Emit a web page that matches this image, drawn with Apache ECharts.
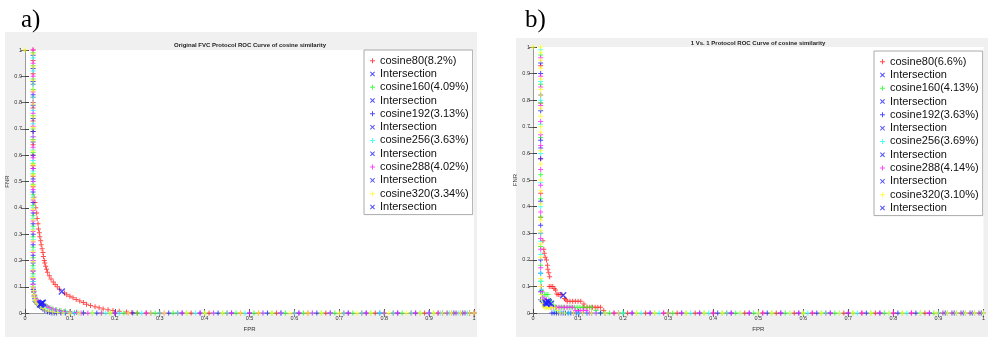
<!DOCTYPE html>
<html>
<head>
<meta charset="utf-8">
<script src="https://cdn.jsdelivr.net/npm/echarts@6/dist/echarts.min.js"></script>
<style>
html, body { margin: 0; padding: 0; background: #fff; }
#main { width: 988px; height: 337px; }
</style>
</head>
<body>
<div id="main"></div>
<script>
// 图例名称
var namesA = ['cosine80(8.2%)', 'cosine160(4.09%)', 'cosine192(3.13%)', 'cosine256(3.63%)', 'cosine288(4.02%)', 'cosine320(3.34%)'];
var namesB = ['cosine80(6.6%)', 'cosine160(4.13%)', 'cosine192(3.63%)', 'cosine256(3.69%)', 'cosine288(4.14%)', 'cosine320(3.10%)'];
var colors = ['#ff2020', '#20ff20', '#2020ff', '#20ffff', '#ff20ff', '#ffff20'];
var ticks = [0, 0.1, 0.2, 0.3, 0.4, 0.5, 0.6, 0.7, 0.8, 0.9, 1];

// a) Original FVC: 竖直段 FNR, 曲线段 [FPR, FNR], 水平段 FPR
var a80Stem = [1, 0.96, 0.91, 0.87, 0.82, 0.78, 0.73, 0.69, 0.64, 0.6, 0.56, 0.52, 0.48];
var a80Curve = [[0.020,0.44],[0.022,0.42],[0.024,0.40],[0.026,0.38],[0.027,0.36],[0.029,0.34],[0.030,0.32],[0.032,0.305],[0.033,0.29],[0.035,0.275],[0.036,0.26],[0.038,0.245],[0.040,0.23],[0.041,0.215],[0.043,0.20],[0.044,0.19],[0.046,0.178],[0.048,0.167],[0.050,0.155],[0.054,0.142],[0.058,0.13],[0.063,0.118],[0.067,0.109],[0.072,0.10],[0.077,0.091],[0.088,0.076],[0.093,0.07],[0.1,0.064],[0.107,0.058],[0.114,0.052],[0.122,0.046],[0.13,0.04],[0.137,0.034],[0.146,0.029],[0.156,0.024],[0.165,0.02],[0.174,0.016],[0.185,0.013],[0.196,0.01],[0.21,0.007],[0.226,0.004],[0.238,0.002],[0.25,0]];
var a80Tail = [0.27,0.3,0.34,0.37,0.41,0.45,0.48,0.52,0.56,0.6,0.63,0.67,0.71,0.75,0.78,0.82,0.86,0.89,0.92,0.95,0.97,0.99,1];
var a160Stem = [0.99,0.94,0.89,0.85,0.8,0.75,0.7,0.66,0.61,0.57,0.53,0.49,0.45,0.41,0.37,0.33,0.29,0.25,0.21,0.18,0.15,0.12,0.1];
var a160Curve = [[0.019,0.09],[0.02,0.08],[0.021,0.07],[0.023,0.06],[0.025,0.05],[0.028,0.045],[0.032,0.04],[0.038,0.036],[0.045,0.03],[0.05,0.025],[0.056,0.02],[0.063,0.016],[0.07,0.013],[0.08,0.01],[0.09,0.008],[0.1,0.006],[0.115,0.004],[0.13,0.002],[0.15,0.001]];
var a160Tail = [0.17,0.19,0.22,0.25,0.29,0.33,0.36,0.4,0.44,0.47,0.51,0.55,0.58,0.62,0.66,0.69,0.73,0.77,0.8,0.84,0.88,0.91,0.94,0.96,0.98,1];
var a192Stem = [0.98,0.93,0.88,0.83,0.79,0.74,0.69,0.65,0.6,0.55,0.51,0.46,0.42,0.38,0.34,0.3,0.26,0.22,0.19,0.16,0.13,0.11,0.09];
var a192Curve = [[0.019,0.08],[0.02,0.065],[0.021,0.055],[0.022,0.045],[0.024,0.04],[0.027,0.035],[0.03,0.03],[0.033,0.025],[0.036,0.02],[0.04,0.015],[0.044,0.01],[0.05,0.005],[0.055,0.002],[0.06,0]];
var a192Tail = [0.065,0.07,0.08,0.09,0.11,0.13,0.16,0.2,0.24,0.28,0.32,0.35,0.39,0.43,0.46,0.5,0.54,0.57,0.61,0.65,0.68,0.72,0.76,0.79,0.83,0.87,0.9,0.93,0.955,0.975,0.99];
var a256Stem = [0.97,0.92,0.87,0.82,0.77,0.72,0.67,0.62,0.58,0.54,0.5,0.44,0.4,0.36,0.32,0.28,0.24,0.2,0.17,0.14,0.12];
var a256Curve = [[0.019,0.1],[0.02,0.085],[0.021,0.07],[0.023,0.058],[0.025,0.048],[0.028,0.042],[0.032,0.037],[0.037,0.03],[0.043,0.024],[0.05,0.018],[0.058,0.013],[0.066,0.009],[0.076,0.006],[0.088,0.004],[0.1,0.002],[0.11,0]];
var a256Tail = [0.12,0.15,0.18,0.21,0.26,0.3,0.34,0.38,0.42,0.45,0.49,0.53,0.57,0.6,0.64,0.68,0.71,0.75,0.79,0.82,0.86,0.9,0.925,0.945,0.965,0.985];
var a288Stem = [1,0.95,0.9,0.84,0.8,0.76,0.71,0.67,0.63,0.59,0.55,0.5,0.47,0.43,0.39,0.35,0.31,0.27,0.23,0.2,0.16,0.13,0.11];
var a288Curve = [[0.019,0.095],[0.02,0.082],[0.022,0.068],[0.024,0.056],[0.026,0.048],[0.03,0.043],[0.035,0.04],[0.041,0.033],[0.047,0.027],[0.053,0.021],[0.06,0.016],[0.068,0.012],[0.077,0.009],[0.087,0.006],[0.1,0.004],[0.115,0.002],[0.125,0]];
var a288Tail = [0.14,0.17,0.2,0.23,0.27,0.31,0.35,0.39,0.42,0.46,0.5,0.53,0.57,0.61,0.64,0.68,0.72,0.76,0.8,0.83,0.87,0.9,0.92,0.94,0.96,0.98,1];
var a320Stem = [0.985,0.935,0.885,0.845,0.795,0.745,0.705,0.655,0.615,0.565,0.525,0.485,0.435,0.395,0.355,0.315,0.275,0.235,0.195,0.165,0.135,0.1];
var a320Curve = [[0,1],[0.019,0.085],[0.02,0.07],[0.021,0.06],[0.022,0.05],[0.024,0.042],[0.027,0.036],[0.031,0.03],[0.035,0.025],[0.04,0.018],[0.046,0.012],[0.053,0.007],[0.062,0.004],[0.072,0.002],[0.085,0]];
var a320Tail = [0.1,0.12,0.15,0.19,0.23,0.28,0.31,0.36,0.4,0.44,0.48,0.52,0.55,0.59,0.63,0.66,0.7,0.74,0.77,0.81,0.85,0.88,0.91,0.93,0.95,0.97,0.99,1];
var crossA = [[0.082,0.082],[0.038,0.038],[0.035,0.034],[0.036,0.036],[0.04,0.039],[0.034,0.033]];

// b) 1 Vs. 1
var b80Stem = [0.93, 0.79, 0.58, 0.45, 0.36, 0.3];
var b80Curve = [[0.022,0.272],[0.024,0.24],[0.025,0.225],[0.027,0.21],[0.03,0.2],[0.032,0.18],[0.033,0.165],[0.035,0.152],[0.037,0.137],[0.036,0.1],[0.04,0.1],[0.044,0.1],[0.047,0.092],[0.05,0.087],[0.053,0.072],[0.056,0.07],[0.06,0.07],[0.064,0.07],[0.07,0.055],[0.073,0.05],[0.076,0.045],[0.082,0.045],[0.088,0.045],[0.094,0.045],[0.1,0.045],[0.106,0.045],[0.113,0.034],[0.113,0.022],[0.12,0.022],[0.126,0.022],[0.132,0.022],[0.138,0.022],[0.144,0.022],[0.15,0.022],[0.157,0.01],[0.16,0]];
var b80Tail = [0.18,0.21,0.25,0.29,0.32,0.36,0.4,0.43,0.47,0.51,0.54,0.58,0.62,0.65,0.69,0.73,0.76,0.8,0.84,0.87,0.9,0.92,0.94,0.96,0.98,1];
var b160Stem = [0.97,0.86,0.79,0.66,0.52,0.43,0.36,0.25,0.18,0.12];
var b160Curve = [[0.018,0.1],[0.019,0.085],[0.021,0.07],[0.025,0.07],[0.029,0.07],[0.033,0.07],[0.035,0.05],[0.04,0.045],[0.045,0.03],[0.05,0.022],[0.056,0.022],[0.062,0.022],[0.068,0.022],[0.074,0.022],[0.08,0.022],[0.086,0.022],[0.092,0.022],[0.098,0.022],[0.104,0.022],[0.11,0.022],[0.12,0.022],[0.13,0.022],[0.14,0.01],[0.15,0]];
var b160Tail = [0.17,0.2,0.23,0.27,0.31,0.34,0.38,0.42,0.45,0.49,0.53,0.56,0.6,0.64,0.67,0.71,0.75,0.78,0.82,0.86,0.89,0.91,0.93,0.95,0.97,0.99];
var b192Stem = [0.94,0.9,0.82,0.76,0.65,0.62,0.58,0.42,0.33,0.2,0.15];
var b192Curve = [[0.017,0.08],[0.017,0.05],[0.02,0.045],[0.023,0.04],[0.026,0.035],[0.029,0.03],[0.032,0.04],[0.035,0.03],[0.038,0.03],[0.042,0],[0.047,0],[0.052,0],[0.057,0],[0.062,0],[0.067,0],[0.072,0],[0.078,0],[0.084,0],[0.09,0],[0.096,0],[0.102,0],[0.11,0],[0.12,0]];
var b192Tail = [0.13,0.15,0.19,0.22,0.26,0.3,0.33,0.37,0.41,0.44,0.48,0.52,0.55,0.59,0.63,0.66,0.7,0.74,0.77,0.81,0.85,0.88,0.915,0.935,0.955,0.975,0.995];
var b256Stem = [0.99,0.87,0.8,0.71,0.6,0.49,0.4,0.3,0.27,0.22,0.15];
var b256Curve = [[0.018,0.12],[0.019,0.09],[0.02,0.07],[0.022,0.05],[0.025,0.045],[0.03,0.04],[0.035,0.03],[0.04,0.02],[0.05,0.01],[0.06,0.005],[0.07,0]];
var b256Tail = [0.08,0.1,0.12,0.14,0.16,0.2,0.24,0.28,0.35,0.39,0.43,0.46,0.5,0.57,0.61,0.65,0.68,0.72,0.79,0.83,0.86,0.9,0.92,0.94,0.96,0.98,1];
var b288Stem = [0.96,0.89,0.85,0.78,0.72,0.67,0.63,0.54,0.48,0.38,0.28,0.24,0.17];
var b288Curve = [[0.018,0.1],[0.02,0.08],[0.022,0.06],[0.025,0.05],[0.03,0.05],[0.035,0.04],[0.04,0.022],[0.046,0.022],[0.052,0.022],[0.058,0.022],[0.064,0.022],[0.07,0.022],[0.076,0.022],[0.082,0.022],[0.088,0.022],[0.094,0.01],[0.1,0.01],[0.106,0.01],[0.112,0.01],[0.118,0.01],[0.125,0]];
var b288Tail = [0.14,0.18,0.22,0.26,0.29,0.33,0.37,0.4,0.44,0.48,0.51,0.55,0.59,0.62,0.66,0.7,0.73,0.77,0.8,0.84,0.88,0.91,0.93,0.95,0.97,0.99];
var b320Stem = [1,0.98,0.95,0.92,0.88,0.84,0.82,0.77,0.74,0.7,0.68,0.61,0.56,0.5,0.46,0.41,0.35,0.31,0.26,0.21,0.13,0.1];
var b320Curve = [[0,1],[0.018,0.07],[0.019,0.05],[0.021,0.035],[0.023,0.025],[0.026,0.02],[0.03,0.02],[0.034,0.02],[0.038,0.02],[0.042,0.02],[0.048,0.02],[0.055,0.01],[0.06,0]];
var b320Tail = [0.07,0.09,0.11,0.13,0.16,0.19,0.23,0.27,0.3,0.34,0.38,0.42,0.46,0.5,0.53,0.57,0.6,0.64,0.68,0.71,0.75,0.79,0.82,0.86,0.895,0.92,0.94,0.96,0.98,1];
var crossB = [[0.067,0.067],[0.035,0.04],[0.03,0.035],[0.028,0.04],[0.04,0.035],[0.033,0.045]];

var plusPath = 'path://M4,0H6V4H10V6H6V10H4V6H0V4H4Z';
var crossPath = 'path://M0,1.4L1.4,0L5,3.6L8.6,0L10,1.4L6.4,5L10,8.6L8.6,10L5,6.4L1.4,10L0,8.6L3.6,5Z';

function build(x0, stem, curve, tail) {
    var d = [];
    for (var i = 0; i < stem.length; i++) d.push([x0, stem[i]]);
    for (var j = 0; j < curve.length; j++) d.push(curve[j]);
    for (var k = 0; k < tail.length; k++) d.push([tail[k], 0]);
    return d;
}

var dataA = [
    build(0.018, a80Stem, a80Curve, a80Tail),
    build(0.018, a160Stem, a160Curve, a160Tail),
    build(0.018, a192Stem, a192Curve, a192Tail),
    build(0.018, a256Stem, a256Curve, a256Tail),
    build(0.018, a288Stem, a288Curve, a288Tail),
    build(0.018, a320Stem, a320Curve, a320Tail)
];
var dataB = [
    build(0.017, b80Stem, b80Curve, b80Tail),
    build(0.017, b160Stem, b160Curve, b160Tail),
    build(0.017, b192Stem, b192Curve, b192Tail),
    build(0.017, b256Stem, b256Curve, b256Tail),
    build(0.017, b288Stem, b288Curve, b288Tail),
    build(0.017, b320Stem, b320Curve, b320Tail)
];

var series = [];
var legendA = [];
var legendB = [];
function addPanel(names, data, cross, gi, tag, legendList) {
    for (var i = 0; i < names.length; i++) {
        series.push({
            name: names[i], type: 'scatter', xAxisIndex: gi * 2, yAxisIndex: gi * 2,
            symbol: plusPath, symbolSize: 5, itemStyle: { color: colors[i] },
            data: data[i], z: 2 + i
        });
        var xn = 'Intersection#' + tag + i;
        series.push({
            name: xn, type: 'scatter', xAxisIndex: gi * 2, yAxisIndex: gi * 2,
            symbol: crossPath, symbolSize: 7, itemStyle: { color: '#2020ff' },
            data: [cross[i]], z: 10
        });
        legendList.push(names[i], xn);
    }
}
addPanel(namesA, dataA, crossA, 0, 'a', legendA);
addPanel(namesB, dataB, crossB, 1, 'b', legendB);

function mainX(gi) {
    return {
        gridIndex: gi, type: 'value', min: 0, max: 1, interval: 0.1, position: 'bottom',
        name: 'FPR', nameLocation: 'middle', nameGap: 12,
        nameTextStyle: { fontSize: 6, color: '#333' },
        axisLine: { onZero: false, lineStyle: { color: '#444' } },
        axisTick: { inside: true, length: 4, lineStyle: { color: '#444' } },
        axisLabel: { fontSize: 5.5, color: '#333', margin: 2,
            formatter: function (v) { return ticks.indexOf(v) >= 0 ? String(v) : ''; } },
        splitLine: { show: false }
    };
}
function topX(gi) {
    return {
        gridIndex: gi, type: 'value', min: 0, max: 1, interval: 0.1, position: 'top',
        axisLine: { show: true, lineStyle: { color: '#999' } },
        axisTick: { inside: true, length: 4, lineStyle: { color: '#666' } },
        axisLabel: { show: false }, splitLine: { show: false }
    };
}
function mainY(gi) {
    return {
        gridIndex: gi, type: 'value', min: 0, max: 1, interval: 0.1, position: 'left',
        name: 'FNR', nameLocation: 'middle', nameGap: 11, nameRotate: 90,
        nameTextStyle: { fontSize: 6, color: '#333' },
        axisLine: { show: true, onZero: false, lineStyle: { color: '#444' } },
        axisTick: { inside: true, length: 4, lineStyle: { color: '#444' } },
        axisLabel: { fontSize: 5.5, color: '#333', margin: 3 },
        splitLine: { show: false }
    };
}
function rightY(gi) {
    return {
        gridIndex: gi, type: 'value', min: 0, max: 1, interval: 0.1, position: 'right',
        axisLine: { show: true, lineStyle: { color: '#999' } },
        axisTick: { inside: true, length: 4, lineStyle: { color: '#666' } },
        axisLabel: { show: false }, splitLine: { show: false }
    };
}

function legendCfg(list, left, top) {
    return {
        data: list, orient: 'vertical', left: left, top: top,
        padding: [4, 4, 1, 6], itemGap: 0, itemWidth: 5, itemHeight: 5,
        backgroundColor: '#fff', borderColor: '#aaa', borderWidth: 1, borderRadius: 0,
        selectedMode: false,
        textStyle: { fontSize: 11, lineHeight: 13.3, color: '#111', fontFamily: 'Liberation Sans, Arial, sans-serif' },
        formatter: function (n) { return n.split('#')[0]; }
    };
}

var chart = echarts.init(document.getElementById('main'));
chart.setOption({
    animation: false,
    backgroundColor: '#fff',
    textStyle: { fontFamily: 'Liberation Sans, Arial, sans-serif' },
    graphic: [
        { type: 'rect', z: -10, shape: { x: 5, y: 32, width: 472, height: 305 }, style: { fill: '#f0f0f0' } },
        { type: 'rect', z: -10, shape: { x: 516, y: 38, width: 472, height: 299 }, style: { fill: '#f0f0f0' } },
        { type: 'text', x: 21, y: 20, style: { text: 'a)', fontSize: 25, fontFamily: 'Liberation Serif, DejaVu Serif, serif', fill: '#000', verticalAlign: 'middle' } },
        { type: 'text', x: 525, y: 20, style: { text: 'b)', fontSize: 25, fontFamily: 'Liberation Serif, DejaVu Serif, serif', fill: '#000', verticalAlign: 'middle' } },
        { type: 'text', x: 250, y: 45, style: { text: 'Original FVC Protocol ROC Curve of cosine similarity', fontSize: 6, fontWeight: 'bold', fill: '#222', align: 'center', verticalAlign: 'middle' } },
        { type: 'text', x: 758, y: 43, style: { text: '1 Vs. 1 Protocol ROC Curve of cosine similarity', fontSize: 6, fontWeight: 'bold', fill: '#222', align: 'center', verticalAlign: 'middle' } }
    ],
    grid: [
        { left: 25, top: 50, width: 449, height: 276, show: true, backgroundColor: '#fff', borderWidth: 0 },
        { left: 533, top: 47, width: 451, height: 279, show: true, backgroundColor: '#fff', borderWidth: 0 }
    ],
    xAxis: [mainX(0), topX(0), mainX(1), topX(1)],
    yAxis: [mainY(0), rightY(0), mainY(1), rightY(1)],
    legend: [legendCfg(legendA, 364, 50), legendCfg(legendB, 874, 51)],
    series: series
});
</script>
</body>
</html>
